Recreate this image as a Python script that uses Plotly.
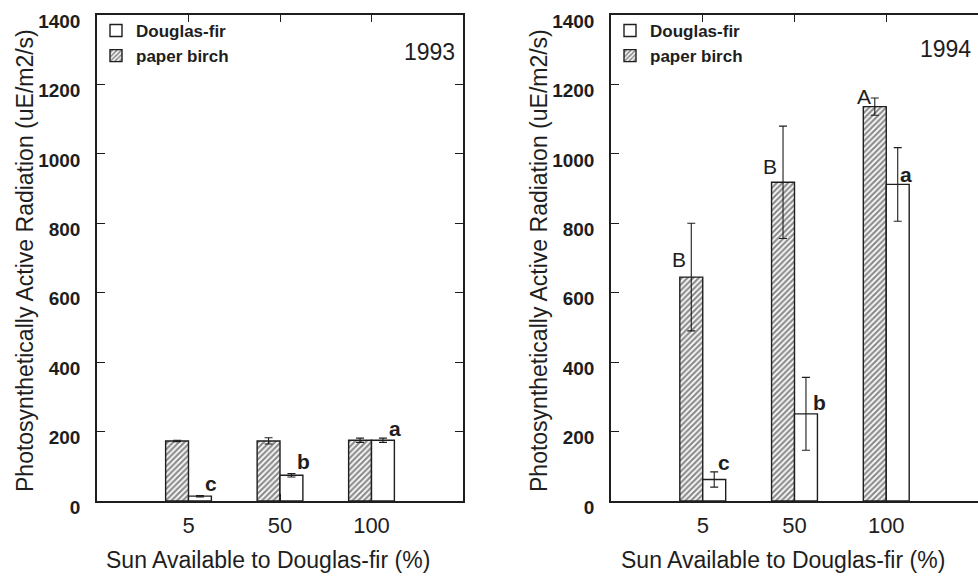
import plotly.graph_objects as go

# ---- data -------------------------------------------------------------
sun_levels = ["5", "50", "100"]

birch_1993 = [173, 173, 175]
birch_1993_err = [2, 9, 6]
fir_1993 = [14, 74, 175]
fir_1993_err = [2, 5, 6]

birch_1994 = [645, 918, 1136]
birch_1994_err = [155, 162, 25]
fir_1994 = [62, 251, 912]
fir_1994_err = [22, 105, 106]

fir_1993_groups = ["c", "b", "a"]
birch_1994_groups = ["B", "B", "A"]
fir_1994_groups = ["c", "b", "a"]

years = ["1993", "1994"]
par_ticks = [0, 200, 400, 600, 800, 1000, 1200, 1400]

# ---- geometry / style -------------------------------------------------
W, H = 978, 578
FONT = "Liberation Sans, Arial, Helvetica, sans-serif"
INK = "#1e1e1e"
panels_px = [(97, 463), (611, 978)]
top_px, bottom_px = 15, 501


def fx(p):
    return p / W


def fy(p):
    return 1 - p / H


birch_marker = dict(
    color="white",
    line=dict(color=INK, width=1.4),
    pattern=dict(shape="/", fgcolor="#1a1a1a", bgcolor="white", size=4, solidity=0.55),
)
fir_marker = dict(color="white", line=dict(color=INK, width=1.4))


def err(arr):
    return dict(type="data", array=arr, color=INK, thickness=1.1, width=4)


fig = go.Figure()
series = [
    (birch_1993, birch_1993_err, fir_1993, fir_1993_err),
    (birch_1994, birch_1994_err, fir_1994, fir_1994_err),
]
for i, (b, be, f, fe) in enumerate(series):
    sfx = "" if i == 0 else "2"
    leg = "legend" if i == 0 else "legend2"
    fig.add_trace(go.Bar(x=sun_levels, y=b, name="paper birch", marker=birch_marker,
                         error_y=err(be), xaxis="x" + sfx, yaxis="y" + sfx, legend=leg))
    fig.add_trace(go.Bar(x=sun_levels, y=f, name="Douglas-fir", marker=fir_marker,
                         error_y=err(fe), xaxis="x" + sfx, yaxis="y" + sfx, legend=leg))

axis_common = dict(showline=True, linecolor=INK, linewidth=1.5, mirror="ticks",
                   ticks="inside", tickcolor=INK, tickwidth=1.2, showgrid=False,
                   zeroline=False)
y_domain = [fy(bottom_px), fy(top_px)]

layout = dict(
    width=W, height=H, margin=dict(l=0, r=0, t=0, b=0, autoexpand=False),
    paper_bgcolor="white", plot_bgcolor="white",
    barmode="group", bargap=0.5, bargroupgap=0,
    font=dict(family=FONT, color=INK),
    showlegend=True,
)
for i, (x0, x1) in enumerate(panels_px):
    sfx = "" if i == 0 else "2"
    layout["xaxis" + sfx] = dict(
        axis_common, domain=[fx(x0), min(1.0, fx(x1))], range=[-1, 3], type="category",
        ticklen=7, anchor="y" + sfx, ticklabelstandoff=4,
        tickfont=dict(family=FONT, size=22, color=INK),
    )
    layout["yaxis" + sfx] = dict(
        axis_common, domain=y_domain, range=[0, 1400],
        tickmode="array", tickvals=par_ticks, ticktext=[str(t) for t in par_ticks],
        ticklen=8, anchor="x" + sfx, ticklabelshift=6, ticklabelstandoff=11,
        tickfont=dict(family=FONT, size=19, color=INK, weight="bold"),
    )
    layout["legend" if i == 0 else "legend2"] = dict(
        x=fx(x0 - 1), y=fy(top_px - 2), xanchor="left", yanchor="top",
        bgcolor="rgba(0,0,0,0)", traceorder="reversed",
        font=dict(family=FONT, size=17, color=INK, weight="bold"),
    )

# the 1994 panel runs off the right edge: its right side carries ticks but no frame line
layout["yaxis2"]["mirror"] = False
layout["yaxis3"] = dict(
    overlaying="y2", anchor="x2", side="right", matches="y2", domain=y_domain,
    range=[0, 1400], tickmode="array", tickvals=par_ticks, ticks="inside", ticklen=8,
    tickcolor=INK, tickwidth=1.2, showline=False, showgrid=False, zeroline=False,
    showticklabels=False,
)

annotations = []
# axis titles
for i, (x0, x1) in enumerate(panels_px):
    annotations.append(dict(
        text="Photosynthetically Active Radiation (uE/m2/s)", textangle=-90,
        x=fx(x0 - 72), y=fy(261), xref="paper", yref="paper", showarrow=False,
        xanchor="center", yanchor="middle",
        font=dict(family=FONT, size=23, color=INK)))
    annotations.append(dict(
        text="Sun Available to Douglas-fir (%)",
        x=fx((x0 + x1) / 2 - 12), y=fy(560), xref="paper", yref="paper", showarrow=False,
        xanchor="center", yanchor="middle",
        font=dict(family=FONT, size=23, color=INK)))
# year labels
for (x, y), yr in zip([(429, 52), (945, 49)], years):
    annotations.append(dict(text=yr, x=fx(x), y=fy(y), xref="paper", yref="paper",
                            xanchor="center", yanchor="middle",
                            showarrow=False, font=dict(family=FONT, size=23, color=INK)))


# significance letters, placed relative to the top of each bar
def letters(groups, values, xref, yref, side, offsets, bold):
    for k, (g, v) in enumerate(zip(groups, values)):
        dx, dy = offsets[k]
        annotations.append(dict(
            text="<b>%s</b>" % g if bold else g,
            x=k + side * 0.125, y=v, xref=xref, yref=yref, showarrow=False,
            xanchor="center", yanchor="middle", xshift=dx, yshift=dy,
            font=dict(family=FONT, size=21, color=INK)))


letters(fir_1993_groups, fir_1993, "x", "y", +1, [(11, 13), (12, 14), (12, 12)], True)
letters(birch_1994_groups, birch_1994, "x2", "y2", -1, [(-12, 18), (-13, 16), (-11, 10)], False)
letters(fir_1994_groups, fir_1994, "x2", "y2", +1, [(10, 17), (14, 11), (8, 10)], True)

layout["annotations"] = annotations
fig.update_layout(**layout)
fig.write_html("out.html")
